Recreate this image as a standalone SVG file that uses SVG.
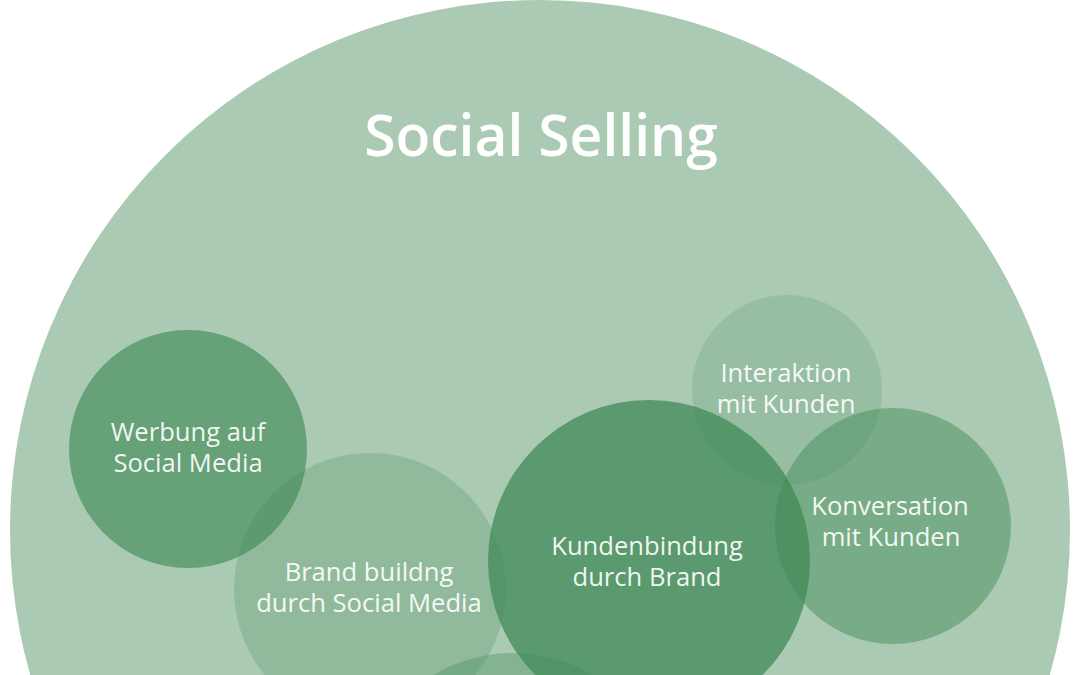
<svg xmlns="http://www.w3.org/2000/svg" width="1080" height="675" viewBox="0 0 1080 675">
  <style>
    .bg { fill: #ffffff; }
    .outer { fill: #abcab4; }
    .c { fill: #3f8a55; }
    .title { font-family: "Open Sans", "Liberation Sans", sans-serif; font-weight: 600; font-size: 57px; fill: #ffffff; text-anchor: middle; }
    .lbl { font-family: "Open Sans", "Liberation Sans", sans-serif; font-weight: 400; font-size: 25.6px; fill: #ffffff; fill-opacity: 0.93; text-anchor: middle; }
  </style>
  <rect class="bg" x="0" y="0" width="1080" height="675"/>
  <g id="social-selling">
    <circle class="outer" cx="540" cy="530" r="530"/>
    <text class="title" x="541" y="156">Social Selling</text>
  </g>
  <g id="werbung">
    <circle class="c" cx="188" cy="449" r="119" fill-opacity="0.64"/>
    <text class="lbl" x="188" y="441">Werbung auf</text>
    <text class="lbl" x="188" y="472">Social Media</text>
  </g>
  <g id="brand-building">
    <circle class="c" cx="370" cy="589" r="136" fill-opacity="0.24"/>
    <text class="lbl" x="369" y="581">Brand buildng</text>
    <text class="lbl" x="369" y="612">durch Social Media</text>
  </g>
  <g id="bottom-circle">
    <circle class="c" cx="513" cy="808" r="155" fill-opacity="0.36"/>
  </g>
  <g id="kundenbindung">
    <circle class="c" cx="649" cy="561" r="161" fill-opacity="0.74"/>
    <text class="lbl" x="647" y="555">Kundenbindung</text>
    <text class="lbl" x="647" y="586">durch Brand</text>
  </g>
  <g id="interaktion">
    <circle class="c" cx="787" cy="390" r="95" fill-opacity="0.18"/>
    <text class="lbl" x="786" y="382">Interaktion</text>
    <text class="lbl" x="786" y="413">mit Kunden</text>
  </g>
  <g id="konversation">
    <circle class="c" cx="893" cy="526" r="118" fill-opacity="0.47"/>
    <text class="lbl" x="890" y="515">Konversation</text>
    <text class="lbl" x="891" y="546">mit Kunden</text>
  </g>
  <g id="connectors"/>
</svg>
